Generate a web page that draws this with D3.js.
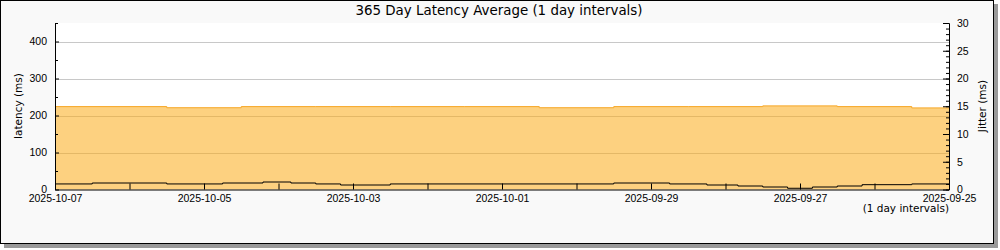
<!DOCTYPE html>
<html>
<head>
<meta charset="utf-8">
<script src="https://cdn.jsdelivr.net/npm/d3@7"></script>
<style>
  body { margin: 0; background: #fff; }
  svg { display: block; font-family: "DejaVu Sans", sans-serif; }
  .axis path, .axis line { stroke: #000; }
  .axis text { font-size: 10.5px; fill: #000; }
</style>
</head>
<body>
<svg id="chart" width="1000" height="250"></svg>
<script>
// latency average, step values (ms), starting at each timestamp
const latencyTimes = ["2025-10-07T00:00", "2025-10-05T12:00", "2025-10-04T12:00", "2025-10-03T12:00",
  "2025-10-02T12:00", "2025-10-01T12:00", "2025-09-30T12:00", "2025-09-29T12:00", "2025-09-28T12:00",
  "2025-09-27T12:00", "2025-09-26T12:00", "2025-09-25T12:00"];
const latencyValues = [224, 221, 224, 224, 224, 224, 221, 224, 224, 226, 224, 220.5];

// jitter (ms), right axis
const jitterTimes = ["2025-10-07T00:00", "2025-10-06T12:00", "2025-10-05T12:00", "2025-10-04T18:00",
  "2025-10-04T05:00", "2025-10-03T20:00", "2025-10-03T12:00", "2025-10-03T04:00", "2025-10-02T12:00",
  "2025-09-29T12:00", "2025-09-28T18:00", "2025-09-28T06:00", "2025-09-27T20:00", "2025-09-27T12:00",
  "2025-09-27T04:00", "2025-09-26T20:00", "2025-09-26T12:00", "2025-09-26T04:00", "2025-09-25T12:00"];
const jitterValues = [1.0, 1.17, 1.0, 1.17, 1.35, 1.17, 1.0, 0.81, 1.0, 1.17, 1.0, 0.81, 0.63, 0.45,
  0.22, 0.45, 0.63, 0.87, 1.0];

const startDate = "2025-10-07T00:00";
const endDate = "2025-09-25T00:00";
const latencyTicks = [0, 100, 200, 300, 400];
const jitterTicks = [0, 5, 10, 15, 20, 25, 30];

const parse = d3.timeParse("%Y-%m-%dT%H:%M");
const fmt = d3.timeFormat("%Y-%m-%d");

const svg = d3.select("#chart");
const mLeft = 55, mRight = 949, mTop = 23, mBottom = 189.5;

// panel with drop shadow
svg.append("rect").attr("x", 4).attr("y", 4).attr("width", 994).attr("height", 244).attr("fill", "#9a9a9a");
svg.append("rect").attr("x", 0.5).attr("y", 0.5).attr("width", 993).attr("height", 243)
  .attr("fill", "#f9f9f9").attr("stroke", "#000");
svg.append("rect").attr("x", mLeft).attr("y", mTop).attr("width", mRight - mLeft).attr("height", mBottom - mTop)
  .attr("fill", "#fff");

const x = d3.scaleTime().domain([parse(startDate), parse(endDate)]).range([mLeft, mRight]);
const yL = d3.scaleLinear().domain([0, 450]).range([mBottom, mTop]);
const yR = d3.scaleLinear().domain([0, 30]).range([mBottom, mTop]);

// grid
svg.append("g").selectAll("line").data(latencyTicks.slice(1)).join("line")
  .attr("x1", mLeft).attr("x2", mRight)
  .attr("y1", d => Math.round(yL(d)) + 0.5).attr("y2", d => Math.round(yL(d)) + 0.5)
  .attr("stroke", "#c8c8c8");

// latency area (step)
const lat = latencyTimes.map((t, i) => ({ t: parse(t), v: latencyValues[i] }));
lat.push({ t: parse(endDate), v: latencyValues[latencyValues.length - 1] });

svg.append("path").datum(lat)
  .attr("fill", "rgba(251,171,24,0.55)")
  .attr("d", d3.area().curve(d3.curveStepAfter).x(d => x(d.t)).y0(mBottom).y1(d => yL(d.v)));
svg.append("path").datum(lat)
  .attr("fill", "none").attr("stroke", "#f6a623").attr("stroke-width", 1)
  .attr("d", d3.line().curve(d3.curveStepAfter).x(d => x(d.t)).y(d => yL(d.v)));

// jitter line
const jit = jitterTimes.map((t, i) => ({ t: parse(t), v: jitterValues[i] }));
jit.push({ t: parse(endDate), v: jitterValues[jitterValues.length - 1] });
svg.append("path").datum(jit)
  .attr("fill", "none").attr("stroke", "#000").attr("stroke-width", 1)
  .attr("d", d3.line().curve(d3.curveStepAfter).x(d => x(d.t)).y(d => yR(d.v)));

// axes
const days = d3.timeDay.range(parse(endDate), d3.timeDay.offset(parse(startDate), 1));
const xAxis = d3.axisBottom(x).tickValues(days).tickSizeInner(-6).tickSizeOuter(0).tickPadding(5)
  .tickFormat(d => (Math.round((parse(startDate) - d) / 864e5) % 2 === 0 ? fmt(d) : ""));
svg.append("g").attr("class", "axis").attr("transform", `translate(0,${mBottom})`).call(xAxis);

const minorL = d3.range(50, 451, 100);
svg.append("g").attr("class", "axis").attr("transform", `translate(${mLeft},0)`)
  .call(d3.axisLeft(yL).tickValues(minorL).tickSizeInner(-3).tickSizeOuter(0).tickFormat(""));
svg.append("g").attr("class", "axis").attr("transform", `translate(${mLeft},0)`)
  .call(d3.axisLeft(yL).tickValues(latencyTicks).tickSizeInner(-4).tickSizeOuter(0).tickPadding(8));

const minorR = d3.range(0, 31, 1);
svg.append("g").attr("class", "axis").attr("transform", `translate(${mRight},0)`)
  .call(d3.axisRight(yR).tickValues(minorR).tickSizeInner(-3).tickSizeOuter(0).tickFormat(""));
svg.append("g").attr("class", "axis").attr("transform", `translate(${mRight},0)`)
  .call(d3.axisRight(yR).tickValues(jitterTicks).tickSizeInner(-6).tickSizeOuter(0).tickPadding(8));

// texts
svg.append("text").attr("x", 499).attr("y", 15).attr("text-anchor", "middle")
  .attr("font-size", 13.4).text("365 Day Latency Average (1 day intervals)");
svg.append("text").attr("transform", "translate(22,106) rotate(-90)").attr("text-anchor", "middle")
  .attr("font-size", 10.5).text("latency (ms)");
svg.append("text").attr("transform", "translate(986,106) rotate(-90)").attr("text-anchor", "middle")
  .attr("font-size", 10.5).text("Jitter (ms)");
svg.append("text").attr("x", mRight).attr("y", 212).attr("text-anchor", "end")
  .attr("font-size", 10.5).text("(1 day intervals)");
</script>
</body>
</html>
